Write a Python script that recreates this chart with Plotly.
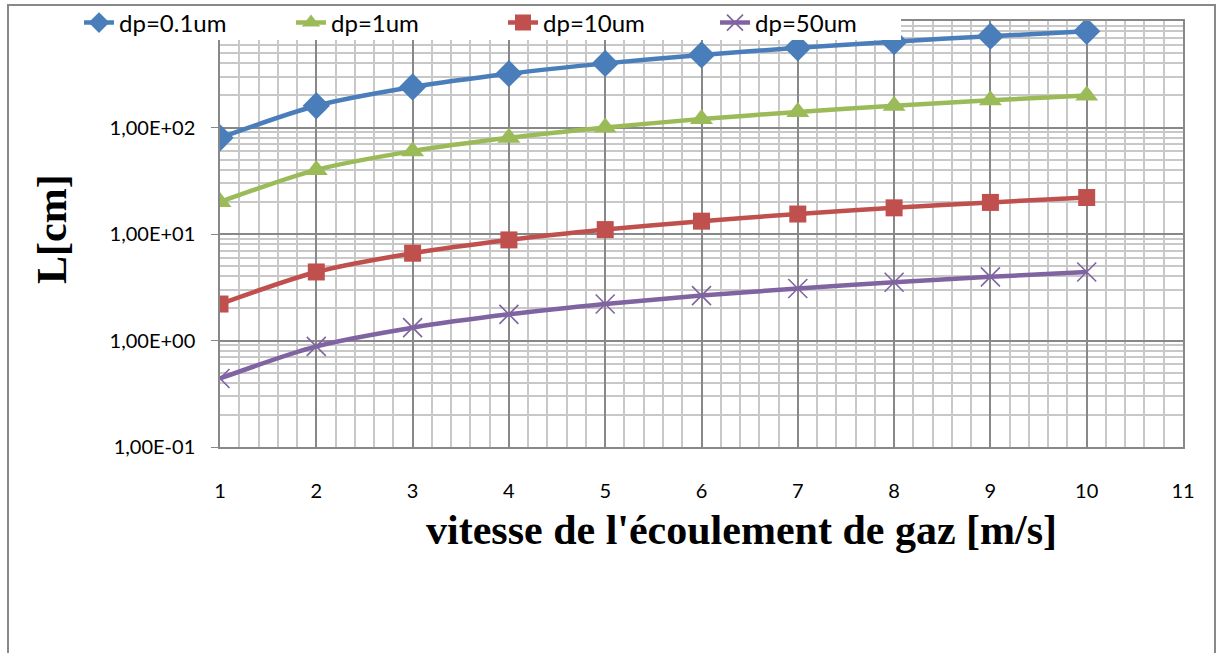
import plotly.graph_objects as go

# ---- data ----
vitesse = [1, 2, 3, 4, 5, 6, 7, 8, 9, 10]
L_dp01 = [80, 160, 240, 320, 400, 480, 560, 640, 720, 800]
L_dp1 = [20, 40, 60, 80, 100, 120, 140, 160, 180, 200]
L_dp10 = [2.2, 4.4, 6.6, 8.8, 11, 13.2, 15.4, 17.6, 19.8, 22]
L_dp50 = [0.44, 0.88, 1.32, 1.76, 2.2, 2.64, 3.08, 3.52, 3.96, 4.4]
series_names = ["dp=0.1um", "dp=1um", "dp=10um", "dp=50um"]
y_tickvals = [0.1, 1, 10, 100, 1000]
y_ticktext = ["1,00E-01", "1,00E+00", "1,00E+01", "1,00E+02", ""]
x_tickvals = [1, 2, 3, 4, 5, 6, 7, 8, 9, 10, 11]

colors = ["#4A7EBB", "#9BBB59", "#C0504D", "#8064A2"]
markers = [
    dict(symbol="diamond", size=21),
    dict(symbol="triangle-up", size=20),
    dict(symbol="square", size=17),
    dict(symbol="x-thin", size=19, line=dict(width=1.6)),
]

fig = go.Figure()
for name, ys, c, m in zip(series_names, [L_dp01, L_dp1, L_dp10, L_dp50], colors, markers):
    mk = dict(color=c, **m)
    if "line" in mk:
        mk["line"] = dict(color=c, width=m["line"]["width"])
    fig.add_trace(go.Scatter(
        x=vitesse, y=ys, name=name, mode="lines+markers",
        line=dict(color=c, width=4.5, shape="spline", smoothing=0.8),
        marker=mk,
    ))

minor_y = [m * 10 ** k for k in range(-1, 3) for m in range(2, 10)]

PW, PH = 963, 426  # plot area size in px


def px_x(x):
    return (x - 220) / PW


def px_y(y):
    return (447 - y) / PH


fig.update_layout(
    width=1217, height=653,
    margin=dict(l=220, r=34, t=21, b=206, pad=0, autoexpand=False),
    paper_bgcolor="white", plot_bgcolor="white",
    font=dict(family="Lato, Open Sans, sans-serif", size=20, color="black"),
    showlegend=True,
    legend=dict(
        orientation="h", xref="container", yref="container",
        x=79 / 1217, y=1 - 23 / 653, xanchor="left", yanchor="middle",
        bgcolor="rgba(0,0,0,0)", font=dict(size=24, family="Lato, sans-serif"),
        entrywidth=167, entrywidthmode="pixels",
        itemsizing="trace",
    ),
    xaxis=dict(
        range=[1, 11], tickmode="array", tickvals=x_tickvals,
        showgrid=True, gridcolor="#888888", gridwidth=1.5,
        minor=dict(dtick=0.2, showgrid=True, gridcolor="#c8c8c8", gridwidth=2),
        showline=True, linecolor="#888888", linewidth=1.5, mirror=True,
        ticks="", ticklabelstandoff=25, zeroline=False,
    ),
    yaxis=dict(
        type="log", range=[-1, 3], tickmode="array",
        tickvals=y_tickvals, ticktext=y_ticktext,
        showgrid=True, gridcolor="#888888", gridwidth=1.5,
        minor=dict(tickmode="array", tickvals=minor_y, showgrid=True,
                   gridcolor="#c8c8c8", gridwidth=2, ticks=""),
        showline=True, linecolor="#888888", linewidth=1.5, mirror=True,
        ticks="outside", ticklen=7, tickcolor="#888888",
        ticklabelstandoff=12, zeroline=False,
    ),
    annotations=[
        dict(text="<b>vitesse de l'écoulement de gaz [m/s]</b>", xref="paper", yref="paper",
             x=px_x(741), y=px_y(530), xanchor="center", yanchor="middle",
             showarrow=False, font=dict(family="Liberation Serif, Times New Roman, serif", size=42, color="black")),
        dict(text="<b>L[cm]</b>", xref="paper", yref="paper", textangle=-90,
             x=px_x(52), y=px_y(229), xanchor="center", yanchor="middle",
             showarrow=False, font=dict(family="Liberation Serif, Times New Roman, serif", size=42, color="black")),
    ],
    shapes=[
        dict(type="rect", xref="paper", yref="paper",
             x0=px_x(8), x1=px_x(1215), y0=-0.6, y1=px_y(5),
             line=dict(color="#888888", width=2), layer="below"),
        dict(type="rect", xref="paper", yref="paper",
             x0=px_x(55), x1=px_x(901), y0=px_y(40), y1=px_y(7),
             fillcolor="white", line=dict(width=0), layer="above"),
    ],
)

fig.write_html("out.html")
